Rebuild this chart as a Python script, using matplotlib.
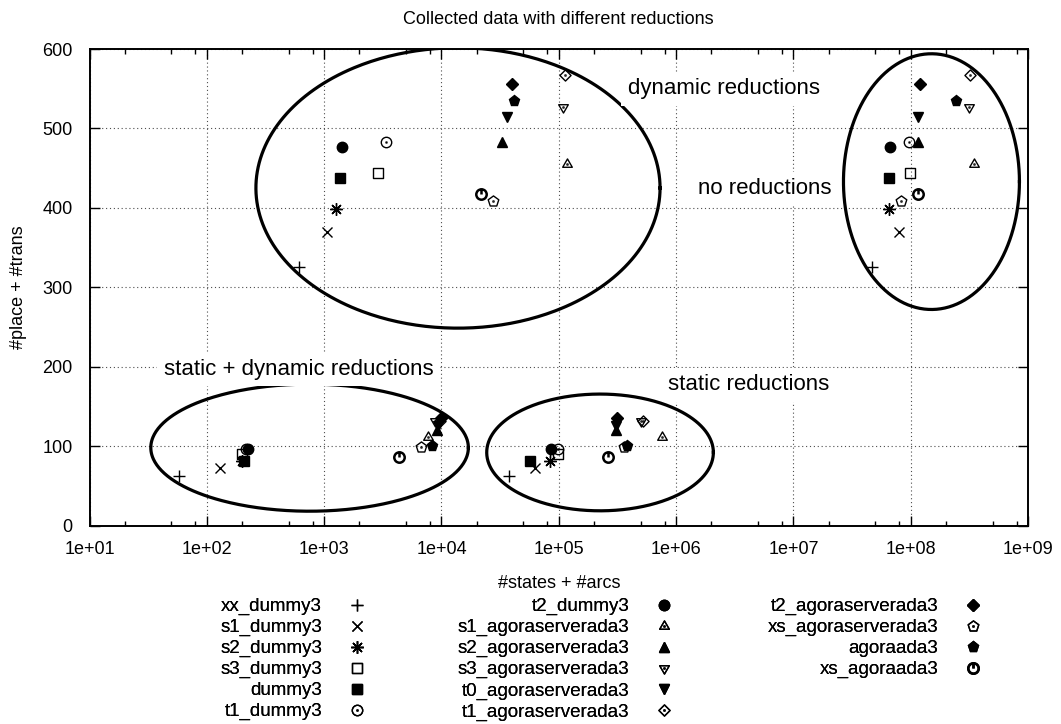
import numpy as np
import matplotlib
matplotlib.use("Agg")
import matplotlib.pyplot as plt
from matplotlib.path import Path
from matplotlib.ticker import LogLocator, FuncFormatter, MultipleLocator, NullFormatter

plt.rcParams["font.family"] = ["Liberation Sans", "DejaVu Sans"]
plt.rcParams["font.size"] = 13

# one entry per benchmark, in legend order
series_names = [
    "xx_dummy3", "s1_dummy3", "s2_dummy3", "s3_dummy3", "dummy3", "t1_dummy3",
    "t2_dummy3", "s1_agoraserverada3", "s2_agoraserverada3", "s3_agoraserverada3",
    "t0_agoraserverada3", "t1_agoraserverada3", "t2_agoraserverada3",
    "xs_agoraserverada3", "agoraada3", "xs_agoraada3",
]

# #place + #trans without / with static reductions
size_full = [325, 370, 398, 444, 438, 483, 476, 455, 483, 527, 515, 567, 556, 408, 535, 418]
size_static = [62, 73, 81, 90, 81, 96, 96, 111, 120, 132, 125, 132, 135, 99, 100, 86]

# #states + #arcs for each kind of reduction
states_none = [4.7e7, 8.0e7, 6.5e7, 9.8e7, 6.55e7, 9.75e7, 6.6e7, 3.47e8,
               1.16e8, 3.16e8, 1.16e8, 3.2e8, 1.21e8, 8.2e7, 2.41e8, 1.15e8]
states_dynamic = [611, 1060, 1270, 2880, 1360, 3370, 1430, 117000,
                  33000, 109000, 36200, 113000, 40000, 27500, 41300, 21900]
states_static = [37900, 62800, 84300, 99300, 56900, 98000, 85500, 7.55e5,
                 3.05e5, 5.0e5, 3.1e5, 5.2e5, 3.12e5, 3.6e5, 3.85e5, 2.65e5]
states_both = [58, 130, 200, 199, 209, 215, 226, 7730,
               9120, 8810, 9420, 9720, 9930, 6650, 8360, 4340]

x_ticks = [1e1, 1e2, 1e3, 1e4, 1e5, 1e6, 1e7, 1e8, 1e9]


def add_dot(path):
    d = 0.09
    dot = Path([(-d, -d), (d, -d), (d, d), (-d, d), (-d, -d)],
               [Path.MOVETO, Path.LINETO, Path.LINETO, Path.LINETO, Path.CLOSEPOLY])
    return Path.make_compound_path(path, dot)


def gnuplot_markers():
    square = Path([(-1, -1), (1, -1), (1, 1), (-1, 1), (-1, -1)],
                  [Path.MOVETO, Path.LINETO, Path.LINETO, Path.LINETO, Path.CLOSEPOLY])
    tri = Path.unit_regular_polygon(3)
    tri_down = Path(-tri.vertices, tri.codes)
    diamond = Path.unit_regular_polygon(4)
    pentagon = Path.unit_regular_polygon(5)
    power = Path.make_compound_path(Path.unit_circle(),
                                    Path([(0, 0), (0, 1)], [Path.MOVETO, Path.LINETO]))
    # (marker, filled, size, edge width)
    return [
        ("+", True, 8, 1.0),
        ("x", True, 7, 1.0),
        ((8, 2, 0), True, 9, 1.0),
        (add_dot(square), False, 7, 1.0),
        ("s", True, 7, 1.0),
        (add_dot(Path.unit_circle()), False, 7.5, 1.0),
        ("o", True, 7.5, 1.0),
        (add_dot(tri), False, 8, 1.0),
        ("^", True, 7.5, 1.0),
        (add_dot(tri_down), False, 8, 1.0),
        ("v", True, 7.5, 1.0),
        (add_dot(diamond), False, 8, 1.0),
        ("D", True, 6, 1.0),
        (add_dot(pentagon), False, 8, 1.0),
        ("p", True, 8, 1.0),
        (power, False, 7.5, 1.8),
    ]


def draw_ellipse(ax, logx, y, width, height):
    t = np.linspace(0, 2 * np.pi, 400)
    ax.plot(10 ** (logx + width / 2 * np.cos(t)), y + height / 2 * np.sin(t),
            color="black", lw=2.3, zorder=1)


def plot_chart():
    fig = plt.figure(figsize=(10.61, 7.24), dpi=100)
    ax = fig.add_axes([89.5 / 1061, 1 - 525.5 / 724, 938.5 / 1061, 476.5 / 724])

    handles = []
    for i, (marker, filled, ms, mew) in enumerate(gnuplot_markers()):
        xs = [states_dynamic[i], states_none[i], states_both[i], states_static[i]]
        ys = [size_full[i], size_full[i], size_static[i], size_static[i]]
        line, = ax.plot(xs, ys, linestyle="none", marker=marker, markersize=ms,
                        color="black", markeredgewidth=mew,
                        markerfacecolor="black" if filled else "none",
                        label=series_names[i], zorder=3)
        handles.append(line)

    draw_ellipse(ax, 4.141, 425, 3.445, 353)
    draw_ellipse(ax, 8.177, 433, 1.50, 322)
    draw_ellipse(ax, 2.876, 98, 2.707, 160)
    draw_ellipse(ax, 5.352, 92, 1.932, 147)

    box = dict(boxstyle="square,pad=0.3", facecolor="white", edgecolor="none")
    label_kw = dict(va="center", fontsize=16, bbox=box, zorder=2)
    ax.text(3.9e5, 550, "dynamic reductions", **label_kw)
    ax.text(1.55e6, 424, "no reductions", **label_kw)
    ax.text(43, 197, "static + dynamic reductions", **label_kw)
    ax.text(8.6e5, 177, "static reductions", **label_kw)

    ax.set_xscale("log")
    ax.set_xlim(10, 1e9)
    ax.set_ylim(0, 600)
    ax.set_xticks(x_ticks)
    ax.xaxis.set_minor_locator(LogLocator(base=10, subs=(2, 5, 8), numticks=20))
    ax.xaxis.set_minor_formatter(NullFormatter())
    ax.xaxis.set_major_formatter(FuncFormatter(lambda v, p: f"{v:.0e}"))
    ax.yaxis.set_major_locator(MultipleLocator(100))
    ax.tick_params(which="both", direction="in", top=True, right=True, width=1)
    ax.tick_params(which="major", length=7)
    ax.tick_params(which="minor", length=3.5)
    ax.tick_params(axis="x", pad=11)
    ax.tick_params(axis="y", pad=12)
    for s in ax.spines.values():
        s.set_linewidth(1.4)
    ax.grid(True, which="major", linestyle=(0, (1, 2.5)), color="0.3", linewidth=0.8)
    ax.set_axisbelow(True)

    ax.set_title("Collected data with different reductions", pad=18, fontsize=13)
    ax.set_xlabel("#states + #arcs")
    ax.set_ylabel("#place + #trans")
    ax.xaxis.set_label_coords(0.5, -0.104)
    ax.yaxis.set_label_coords(-0.067, 0.5)

    # gnuplot-style key: three columns, label then symbol
    columns = [handles[0:6], handles[6:12], handles[12:16]]
    rights = [368, 675, 984]
    for col, right in zip(columns, rights):
        leg = fig.legend(handles=col, loc="upper right",
                         bbox_to_anchor=(right / 1061, 1 - 598 / 724),
                         markerfirst=False, frameon=False, numpoints=1,
                         handlelength=1.2, handletextpad=1.25, labelspacing=0.2,
                         borderpad=0, borderaxespad=0, fontsize=13.5)
        fig.add_artist(leg)

    fig.savefig("out.png", dpi=100)


if __name__ == "__main__":
    plot_chart()
